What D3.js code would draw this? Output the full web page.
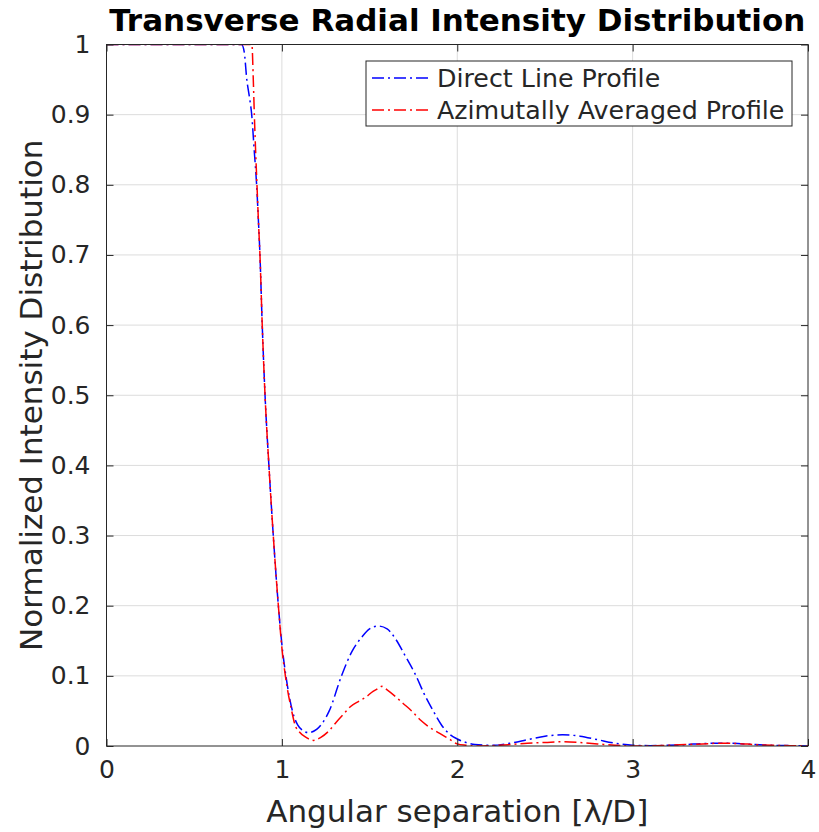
<!DOCTYPE html>
<meta charset="utf-8">
<script src="https://d3js.org/d3.v7.min.js"></script>
<style>
body { margin: 0; background: #fff; }
svg text { font-family: "DejaVu Sans", sans-serif; fill: #262626; }
</style>
<div id="chart"></div>
<script>
// direct line profile (blue)
var xDirect = [0, 0.3, 0.6, 0.77, 0.785, 0.80, 0.815, 0.828, 0.842, 0.856, 0.866, 0.875, 0.888, 0.904, 0.926, 0.951, 0.98, 1.0, 1.023, 1.06, 1.09, 1.12, 1.15, 1.2, 1.27, 1.34, 1.40, 1.455, 1.50, 1.55, 1.60, 1.65, 1.70, 1.765, 1.81, 1.863, 1.91, 1.96, 2.0, 2.05, 2.1, 2.2, 2.3, 2.4, 2.5, 2.6, 2.7, 2.8, 2.9, 3.0, 3.1, 3.2, 3.3, 3.4, 3.5, 3.6, 3.7, 3.8, 3.9, 4.0];
var yDirect = [1, 1, 1, 1, 0.99, 0.95, 0.925, 0.90, 0.85, 0.80, 0.75, 0.70, 0.60, 0.50, 0.40, 0.30, 0.20, 0.145, 0.10, 0.05, 0.03, 0.022, 0.019, 0.024, 0.05, 0.10, 0.135, 0.155, 0.167, 0.171, 0.167, 0.152, 0.13, 0.10, 0.075, 0.05, 0.03, 0.016, 0.01, 0.005, 0.002, 0.001, 0.004, 0.009, 0.014, 0.016, 0.014, 0.009, 0.004, 0.001, 0.0005, 0.001, 0.002, 0.0035, 0.004, 0.0035, 0.002, 0.001, 0.0005, 0];

// azimuthally averaged profile (red)
var xAzim = [0, 0.3, 0.6, 0.829, 0.837, 0.843, 0.85, 0.858, 0.866, 0.875, 0.888, 0.904, 0.926, 0.951, 0.98, 1.0, 1.02, 1.056, 1.075, 1.10, 1.14, 1.18, 1.22, 1.27, 1.31, 1.35, 1.39, 1.44, 1.48, 1.52, 1.55, 1.57, 1.60, 1.65, 1.69, 1.74, 1.79, 1.84, 1.90, 1.96, 2.0, 2.05, 2.1, 2.2, 2.3, 2.4, 2.5, 2.6, 2.7, 2.8, 2.9, 3.0, 3.1, 3.2, 3.3, 3.4, 3.5, 3.6, 3.7, 3.8, 3.9, 4.0];
var yAzim = [1, 1, 1, 1, 0.95, 0.90, 0.85, 0.80, 0.75, 0.70, 0.60, 0.50, 0.40, 0.30, 0.20, 0.14, 0.10, 0.05, 0.03, 0.02, 0.012, 0.008, 0.012, 0.022, 0.034, 0.045, 0.056, 0.064, 0.070, 0.078, 0.082, 0.085, 0.080, 0.070, 0.061, 0.050, 0.037, 0.027, 0.018, 0.009, 0.003, 0.001, 0, 0.0005, 0.002, 0.004, 0.005, 0.006, 0.005, 0.003, 0.001, 0, 0, 0.001, 0.002, 0.003, 0.004, 0.0035, 0.002, 0.001, 0.0005, 0];

var xTicks = [0, 1, 2, 3, 4];
var yTicks = [0, 0.1, 0.2, 0.3, 0.4, 0.5, 0.6, 0.7, 0.8, 0.9, 1];
var seriesNames = ["Direct Line Profile", "Azimutally Averaged Profile"];
var seriesColors = ["#0000ff", "#ff0000"];

var W = 819, H = 832;
var margin = { top: 44.5, right: 11, bottom: 86, left: 106.5 };
var width = W - margin.left - margin.right,
    height = H - margin.top - margin.bottom;

var svg = d3.select("#chart").append("svg")
    .attr("width", W).attr("height", H);
var g = svg.append("g")
    .attr("transform", "translate(" + margin.left + "," + margin.top + ")");

var x = d3.scaleLinear().domain([0, 4]).range([0, width]);
var y = d3.scaleLinear().domain([0, 1]).range([height, 0]);

// grid
g.append("g").selectAll("line").data(xTicks.slice(1, -1)).join("line")
    .attr("x1", d => x(d)).attr("x2", d => x(d))
    .attr("y1", 0).attr("y2", height)
    .attr("stroke", "#dcdcdc").attr("stroke-width", 1);
g.append("g").selectAll("line").data(yTicks.slice(1, -1)).join("line")
    .attr("y1", d => y(d)).attr("y2", d => y(d))
    .attr("x1", 0).attr("x2", width)
    .attr("stroke", "#dcdcdc").attr("stroke-width", 1);

svg.append("clipPath").attr("id", "clip")
    .append("rect").attr("width", width).attr("height", height);

var line = d3.line().x(d => x(d[0])).y(d => y(d[1])).curve(d3.curveMonotoneX);

var dataSets = [d3.zip(xDirect, yDirect), d3.zip(xAzim, yAzim)];
var plot = g.append("g").attr("clip-path", "url(#clip)");
dataSets.forEach(function(ds, i) {
  plot.append("path").datum(ds)
    .attr("d", line)
    .attr("fill", "none")
    .attr("stroke", seriesColors[i])
    .attr("stroke-width", 1.5)
    .attr("stroke-dasharray", "12,4,2,4");
});

// axes (inward ticks, box)
var tk = 7;
function styleAxis(sel) {
  sel.select(".domain").remove();
  sel.selectAll(".tick line").attr("stroke", "#262626");
  sel.selectAll(".tick text").style("font-size", "25px").attr("fill", "#262626");
}
g.append("g").attr("transform", "translate(0," + height + ")")
  .call(d3.axisBottom(x).tickValues(xTicks).tickFormat(d3.format("d")).tickSizeInner(-tk).tickSizeOuter(0).tickPadding(14))
  .call(styleAxis);
g.append("g")
  .call(d3.axisLeft(y).tickValues(yTicks).tickFormat(d => d === 0 || d === 1 ? d3.format("d")(d) : d3.format(".1f")(d)).tickSizeInner(-tk).tickSizeOuter(0).tickPadding(16))
  .call(styleAxis);
g.append("g")
  .call(d3.axisTop(x).tickValues(xTicks).tickFormat("").tickSizeInner(-tk).tickSizeOuter(0))
  .call(styleAxis);
g.append("g").attr("transform", "translate(" + width + ",0)")
  .call(d3.axisRight(y).tickValues(yTicks).tickFormat("").tickSizeInner(-tk).tickSizeOuter(0))
  .call(styleAxis);
g.append("rect").attr("width", width).attr("height", height)
  .attr("fill", "none").attr("stroke", "#262626").attr("stroke-width", 1);

// title and labels
svg.append("text").attr("x", margin.left + width / 2).attr("y", 31)
  .attr("text-anchor", "middle").style("font-size", "31px").style("font-weight", "bold")
  .style("fill", "#000")
  .text("Transverse Radial Intensity Distribution");
svg.append("text").attr("x", margin.left + width / 2).attr("y", 822)
  .attr("text-anchor", "middle").style("font-size", "31px")
  .text("Angular separation [λ/D]");
svg.append("text").attr("transform", "translate(42," + (margin.top + height / 2) + ") rotate(-90)")
  .attr("text-anchor", "middle").style("font-size", "31px")
  .text("Normalized Intensity Distribution");

// legend
var leg = svg.append("g").attr("transform", "translate(366,61)");
leg.append("rect").attr("width", 426).attr("height", 65)
  .attr("fill", "#fff").attr("stroke", "#262626").attr("stroke-width", 1);
seriesNames.forEach(function(name, i) {
  var cy = 17 + i * 32;
  leg.append("line").attr("x1", 6).attr("x2", 65).attr("y1", cy).attr("y2", cy)
    .attr("stroke", seriesColors[i]).attr("stroke-width", 1.5)
    .attr("stroke-dasharray", "12,4,2,4");
  leg.append("text").attr("x", 71).attr("y", cy).attr("dy", "0.35em")
    .style("font-size", "25.3px").text(name);
});
</script>
